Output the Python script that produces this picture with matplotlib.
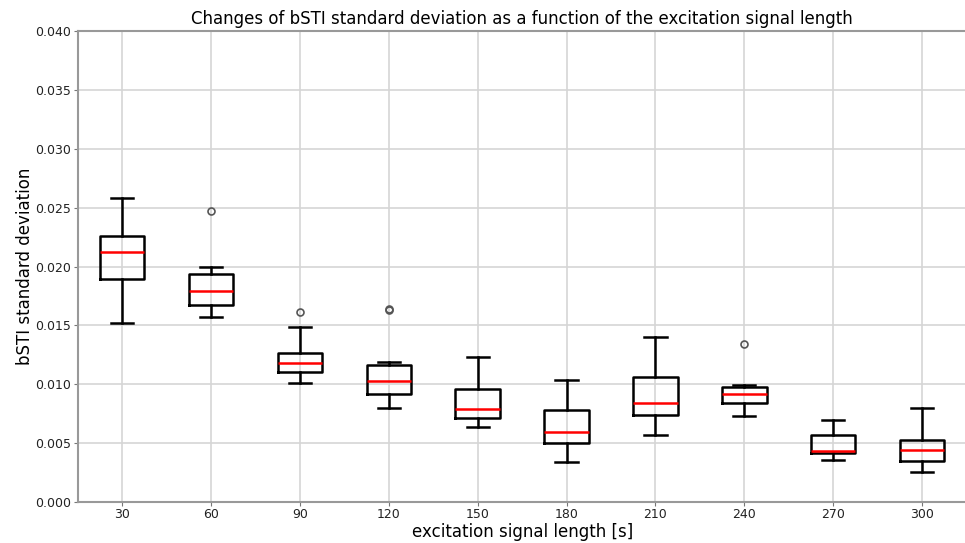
import matplotlib
import matplotlib.pyplot as plt

matplotlib.use('Agg')

lengths = [30, 60, 90, 120, 150, 180, 210, 240, 270, 300]
whisker_low = [0.01518, 0.01574, 0.01013, 0.00797, 0.00638, 0.00343, 0.00573, 0.00732, 0.00357, 0.00255]
q1 = [0.01895, 0.01677, 0.01100, 0.00919, 0.00715, 0.00505, 0.00743, 0.00837, 0.00414, 0.00346]
medians = [0.02125, 0.01790, 0.01183, 0.01027, 0.00791, 0.00596, 0.00837, 0.00913, 0.00437, 0.00445]
q3 = [0.02258, 0.01938, 0.01265, 0.01163, 0.00959, 0.00780, 0.01064, 0.00976, 0.00567, 0.00530]
whisker_high = [0.02580, 0.02000, 0.01484, 0.01186, 0.01228, 0.01036, 0.01404, 0.00993, 0.00698, 0.00797]
outliers = [[], [0.02468], [0.01611], [0.01628, 0.01635], [], [], [], [0.01342], [], []]

stats = []
for i in range(len(lengths)):
    stats.append({
        'whislo': whisker_low[i], 'q1': q1[i], 'med': medians[i],
        'q3': q3[i], 'whishi': whisker_high[i], 'fliers': outliers[i],
    })

fig = plt.figure(figsize=(9.65, 5.43), dpi=100)
ax = fig.add_axes([77.7 / 965, 1 - 502 / 543, 888.9 / 965, 471 / 543])

ax.bxp(stats, positions=range(1, 11), widths=0.5,
       boxprops=dict(color='black', linewidth=1.8),
       whiskerprops=dict(color='black', linewidth=1.8),
       capprops=dict(color='black', linewidth=1.8),
       medianprops=dict(color='red', linewidth=1.8),
       flierprops=dict(marker='o', markersize=5, markerfacecolor='none',
                       markeredgecolor='#555555', markeredgewidth=1.2))

ax.set_xlim(0.5, 10.5)
ax.set_ylim(0, 0.04)
ax.set_xticks(range(1, 11))
ax.set_xticklabels([str(v) for v in lengths])
ax.set_yticks([0.0, 0.005, 0.01, 0.015, 0.02, 0.025, 0.03, 0.035, 0.04])
ax.set_yticklabels(['%.3f' % v for v in ax.get_yticks()])
ax.tick_params(labelsize=9, length=3, pad=1.5, colors='#777777', labelcolor='#222222')
ax.grid(True, color='#d5d5d5', linewidth=1.2)
ax.set_axisbelow(True)
for s in ax.spines.values():
    s.set_color('#999999')
    s.set_linewidth(1.5)

ax.set_title('Changes of bSTI standard deviation as a function of the excitation signal length',
             fontsize=12, pad=5)
ax.set_xlabel('excitation signal length [s]', fontsize=12, labelpad=1.5)
ax.set_ylabel('bSTI standard deviation', fontsize=12)
ax.yaxis.set_label_coords(-44 / 888.9, 0.5)

fig.savefig('out.png', dpi=100)
